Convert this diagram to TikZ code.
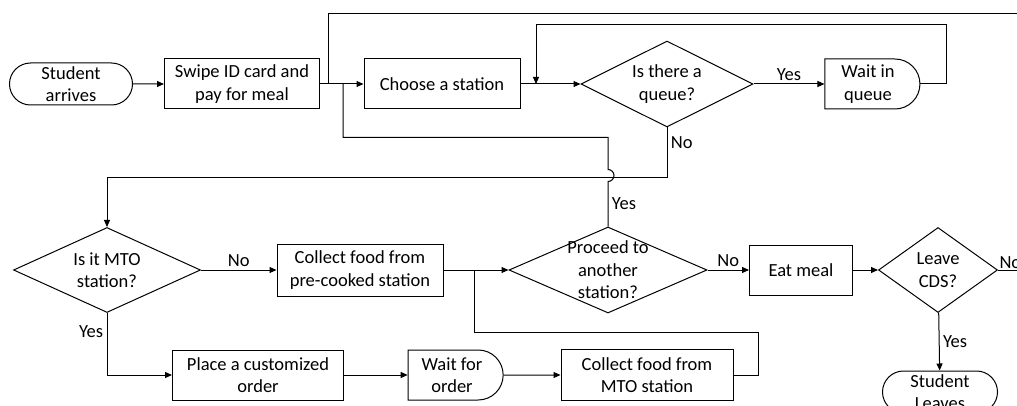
\documentclass[tikz,border=0pt]{standalone}
\usepackage{fontspec}
\setmainfont{Carlito}
\usetikzlibrary{shapes.geometric,shapes.misc,arrows.meta}

\tikzset{
	flow/.style={-{Triangle[length=7pt,width=6pt]}},
	terminal/.style={draw, rounded rectangle, minimum width=#1, minimum height=42pt, inner sep=0pt, align=center},
	process/.style={draw, rectangle, minimum height=50pt, inner sep=0pt, align=center},
	delay/.style={draw, rounded rectangle, rounded rectangle left arc=none, minimum width=95pt, minimum height=50pt, inner sep=0pt, align=center},
	decision/.style={draw, diamond, inner sep=0pt}
}

\begin{document}
\begin{tikzpicture}[x=1pt, y=-1pt, line width=1pt, font=\fontsize{18.5}{22.5}\selectfont]

	% frame
	\useasboundingbox (0,0) rectangle (1017,406);
	\clip (0,0) rectangle (1017,406);

	% top row
	\node[terminal=123pt] (arrive) at (71,84) {Student\\arrives};
	\node[process, minimum width=155pt] (swipe) at (242,84) {Swipe ID card and\\pay for meal};
	\node[process, minimum width=156pt] (choose) at (442,84) {Choose a station};
	\node[decision, minimum width=172pt, minimum height=86pt,
		label={[align=center]center:Is there a\\queue?}] (queue) at (667,84) {};
	\node[delay] (waitq) at (868,84) {Wait in\\queue};

	% middle row
	\node[decision, minimum width=187pt, minimum height=85pt,
		label={[align=center]center:Is it MTO\\station?}] (mto) at (107,270) {};
	\node[process, minimum width=166pt, minimum height=52pt] (precook) at (360,270) {Collect food from\\pre-cooked station};
	\node[decision, minimum width=198pt, minimum height=86pt,
		label={[align=center]center:Proceed to\\another\\station?}] (proceed) at (608,270) {};
	\node[process, minimum width=103pt] (eat) at (801,270) {Eat meal};
	\node[decision, minimum width=119pt, minimum height=85pt,
		label={[align=center]center:Leave\\CDS?}] (leavecds) at (938,270) {};
	\node[terminal=115pt] (leave) at (940,392) {Student\\Leaves};

	% bottom row
	\node[process, minimum width=171pt] (place) at (258,375) {Place a customized\\order};
	\node[delay] (waito) at (452,375) {Wait for\\order};
	\node[process, minimum width=172pt, minimum height=51pt] (mtofood) at (647,375) {Collect food from\\MTO station};

	% junctions
	\coordinate (j1) at (328,84);
	\coordinate (j2) at (343,84);
	\coordinate (j3) at (536,84);
	\coordinate (j4) at (474,270);

	% arrows, top row
	\draw[flow] (arrive) -- (swipe);
	\draw[flow] (swipe) -- (choose);
	\draw[flow] (choose) -- (queue);
	\draw[flow] (queue) -- node[above]{Yes} (waitq);
	\draw[flow] (waitq.east) -- ++(26,0) |- (536,25) -- (j3);
	\draw[flow] (queue.south) -- node[right, pos=0.3]{No} ++(0,50) -| (mto.north);

	% loops back
	\draw (proceed.north) -- node[right]{Yes} ++(0,-45)
		arc[start angle=-90, end angle=90, radius=6pt] -- ++(0,-32) -| (j2);
	\draw (leavecds.east) -- node[above right, pos=0, inner sep=1pt]{No} ++(40,0) -- ++(0,-256) -| (j1);

	% arrows, middle row
	\draw[flow] (mto) -- node[above]{No} (precook);
	\draw[flow] (precook) -- (proceed);
	\draw[flow] (proceed) -- node[above]{No} (eat);
	\draw[flow] (eat) -- (leavecds);
	\draw[flow] (leavecds) -- node[right]{Yes} (leave);

	% arrows, bottom row
	\draw[flow] (mto.south) |- node[left, pos=0.15]{Yes} (place);
	\draw[flow] (place) -- (waito);
	\draw[flow] (waito) -- (mtofood);
	\draw (mtofood.east) -- ++(25,0) |- (474,332) -- (j4);

\end{tikzpicture}
\end{document}
